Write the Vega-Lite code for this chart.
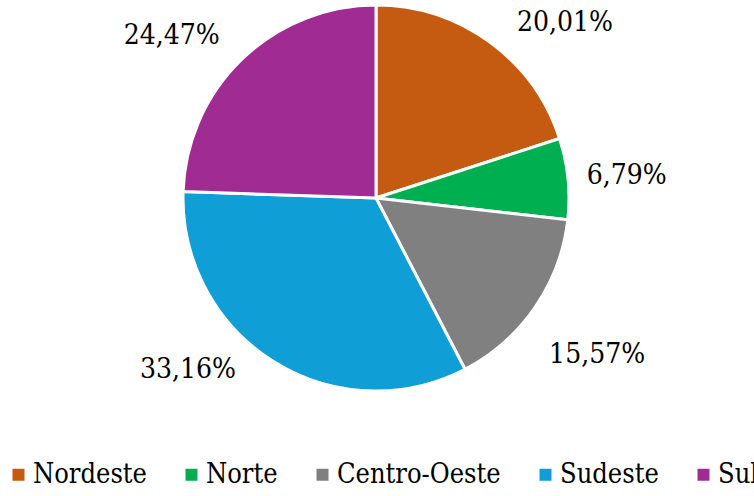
{
  "$schema": "https://vega.github.io/schema/vega-lite/v6.json",
  "width": 752,
  "height": 396,
  "autosize": "none",
  "padding": {"left": 0, "top": 0, "right": 2, "bottom": 100},
  "background": "white",
  "config": {
    "view": {"stroke": null},
    "locale": {"number": {"decimal": ",", "thousands": ".", "grouping": [3], "currency": ["R$", ""]}}
  },
  "data": {
    "values": [
      {"regiao": "Nordeste", "share": 0.2001, "ord": 1},
      {"regiao": "Norte", "share": 0.0679, "ord": 2},
      {"regiao": "Centro-Oeste", "share": 0.1557, "ord": 3},
      {"regiao": "Sudeste", "share": 0.3316, "ord": 4},
      {"regiao": "Sul", "share": 0.2447, "ord": 5}
    ]
  },
  "encoding": {
    "theta": {"field": "share", "type": "quantitative", "stack": true},
    "order": {"field": "ord", "type": "quantitative"}
  },
  "layer": [
    {
      "mark": {"type": "arc", "outerRadius": 193, "stroke": "white", "strokeWidth": 3},
      "encoding": {
        "color": {
          "field": "regiao",
          "type": "nominal",
          "scale": {
            "domain": ["Nordeste", "Norte", "Centro-Oeste", "Sudeste", "Sul"],
            "range": ["#C55A11", "#00B050", "#808080", "#0F9ED5", "#A02B93"]
          },
          "legend": {
            "title": null,
            "orient": "none",
            "direction": "horizontal",
            "columns": 5,
            "legendX": 5,
            "legendY": 461,
            "padding": 0,
            "symbolType": "square",
            "symbolSize": 144,
            "symbolStrokeWidth": 0,
            "labelFont": "DejaVu Serif Condensed",
            "labelFontSize": 27,
            "labelColor": "black",
            "labelOffset": 1,
            "labelLimit": 0,
            "columnPadding": 31
          }
        }
      }
    },
    {
      "mark": {"type": "text", "radius": 255, "dx": 39, "dy": 31, "font": "DejaVu Serif Condensed", "fontSize": 28, "color": "black"},
      "encoding": {"text": {"condition": {"test": "datum.regiao == 'Nordeste'", "field": "share", "type": "quantitative", "format": ".2%"}, "value": ""}}
    },
    {
      "mark": {"type": "text", "radius": 255, "dx": -3, "dy": 4, "font": "DejaVu Serif Condensed", "fontSize": 28, "color": "black"},
      "encoding": {"text": {"condition": {"test": "datum.regiao == 'Norte'", "field": "share", "type": "quantitative", "format": ".2%"}, "value": ""}}
    },
    {
      "mark": {"type": "text", "radius": 255, "dx": 11, "dy": 13, "font": "DejaVu Serif Condensed", "fontSize": 28, "color": "black"},
      "encoding": {"text": {"condition": {"test": "datum.regiao == 'Centro-Oeste'", "field": "share", "type": "quantitative", "format": ".2%"}, "value": ""}}
    },
    {
      "mark": {"type": "text", "radius": 255, "dx": -52, "dy": -44, "font": "DejaVu Serif Condensed", "fontSize": 28, "color": "black"},
      "encoding": {"text": {"condition": {"test": "datum.regiao == 'Sudeste'", "field": "share", "type": "quantitative", "format": ".2%"}, "value": ""}}
    },
    {
      "mark": {"type": "text", "radius": 255, "dx": -27, "dy": 21, "font": "DejaVu Serif Condensed", "fontSize": 28, "color": "black"},
      "encoding": {"text": {"condition": {"test": "datum.regiao == 'Sul'", "field": "share", "type": "quantitative", "format": ".2%"}, "value": ""}}
    }
  ]
}
